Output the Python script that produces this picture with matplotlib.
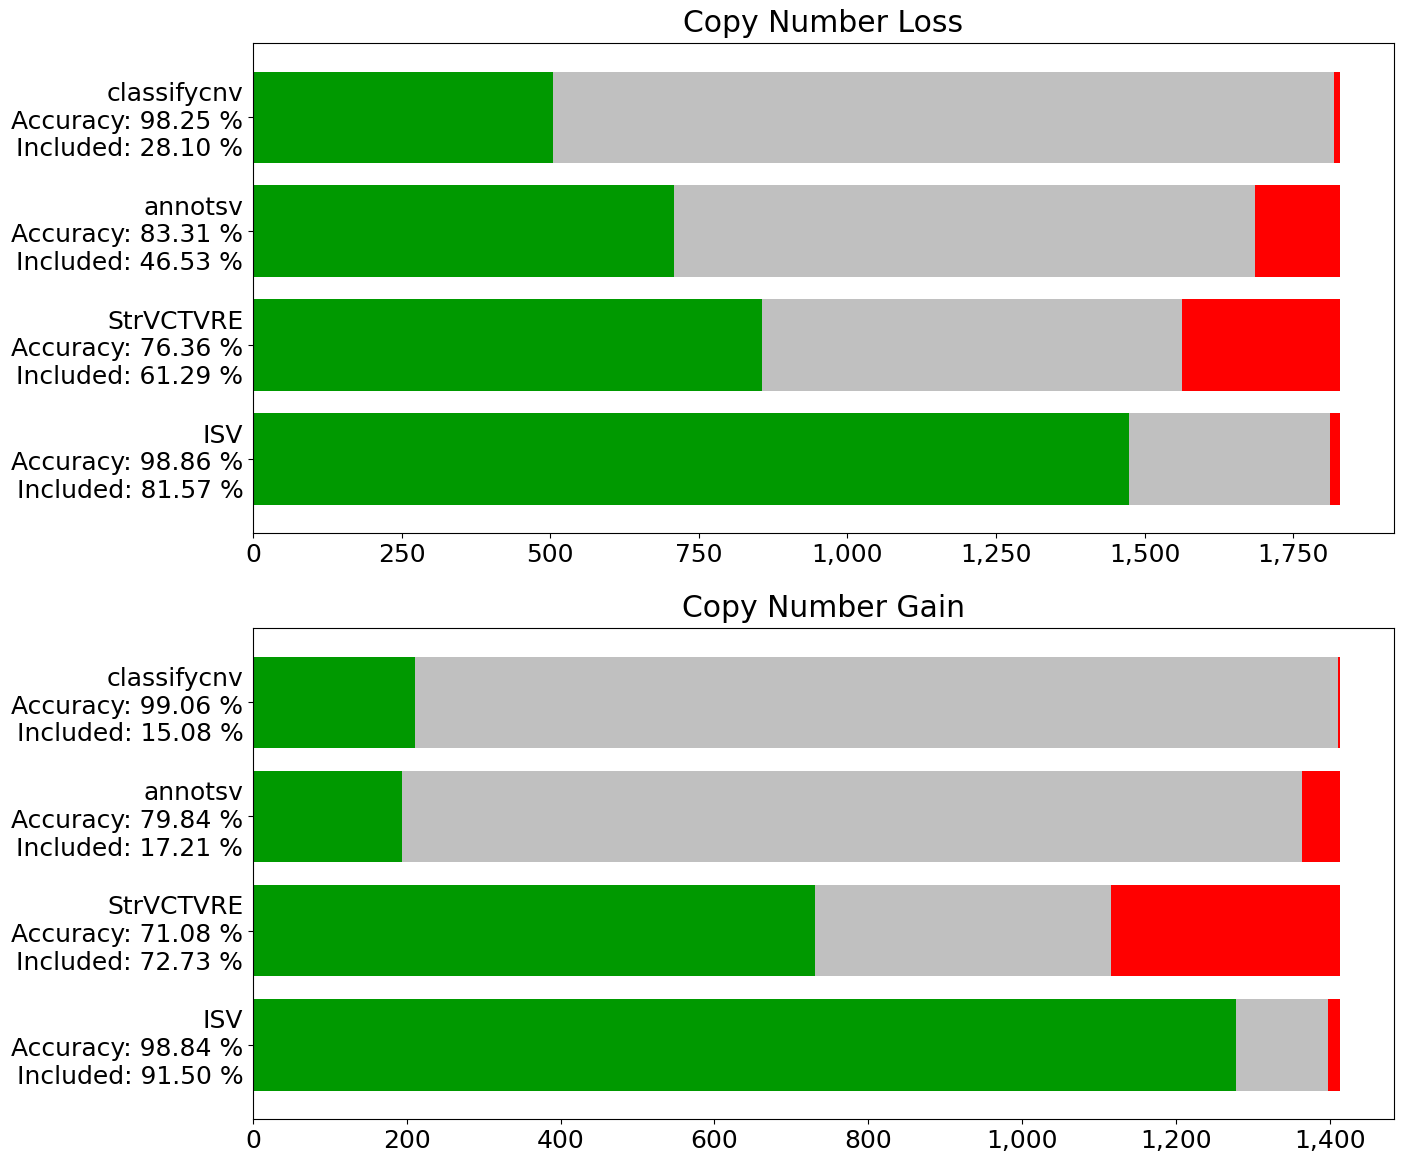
import matplotlib.pyplot as plt
from matplotlib.ticker import StrMethodFormatter

tools = ["classifycnv", "annotsv", "StrVCTVRE", "ISV"]

# total number of variants per CNV type
total_loss = 1828
total_gain = 1413

# accuracy and included fraction (%) per tool
loss_accuracy = [98.25, 83.31, 76.36, 98.86]
loss_included = [28.10, 46.53, 61.29, 81.57]
gain_accuracy = [99.06, 79.84, 71.08, 98.84]
gain_included = [15.08, 17.21, 72.73, 91.50]

GREEN = "#009900"
GRAY = "#c0c0c0"
RED = "#ff0000"
FS = 18


def draw_panel(ax, title, total, accuracy, included):
    correct, excluded, wrong, labels = [], [], [], []
    for name, acc, inc in zip(tools, accuracy, included):
        n_inc = total * inc / 100
        correct.append(n_inc * acc / 100)
        wrong.append(n_inc * (1 - acc / 100))
        excluded.append(total - n_inc)
        labels.append(f"{name}\nAccuracy: {acc:.2f} %\nIncluded: {inc:.2f} %")

    y = list(range(len(tools)))
    ax.barh(y, correct, color=GREEN)
    left = correct
    ax.barh(y, excluded, left=left, color=GRAY)
    left = [a + b for a, b in zip(correct, excluded)]
    ax.barh(y, wrong, left=left, color=RED)

    ax.set_yticks(y)
    ax.set_yticklabels(labels, fontsize=FS, ha="right", multialignment="right")
    ax.set_ylim(len(tools) - 0.35, -0.65)
    ax.xaxis.set_major_formatter(StrMethodFormatter("{x:,.0f}"))
    ax.tick_params(axis="x", labelsize=FS)
    ax.set_title(title, fontsize=21.5, pad=8)


fig = plt.figure(figsize=(14.02, 11.57), dpi=100)
ax1 = fig.add_axes([0.1805, 0.5393, 0.8138, 0.4235])
ax2 = fig.add_axes([0.1805, 0.0328, 0.8138, 0.4244])

draw_panel(ax1, "Copy Number Loss", total_loss, loss_accuracy, loss_included)
draw_panel(ax2, "Copy Number Gain", total_gain, gain_accuracy, gain_included)

fig.savefig("out.png", dpi=100)
